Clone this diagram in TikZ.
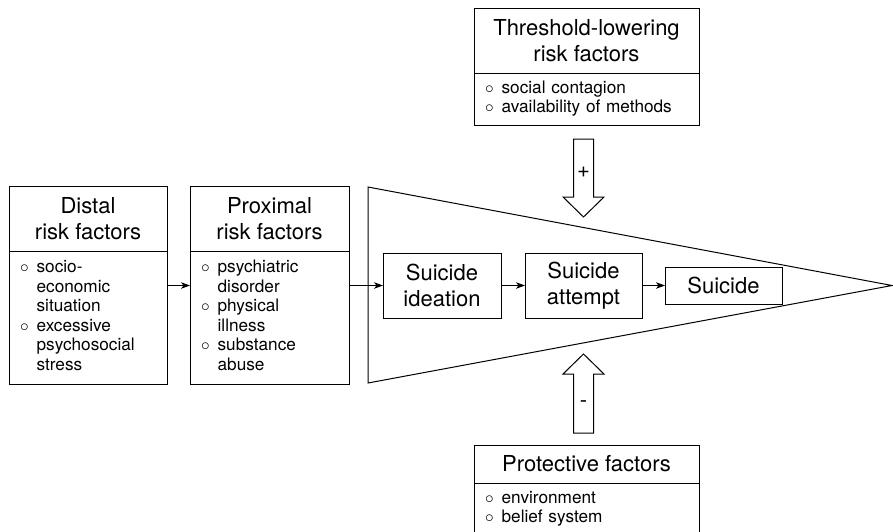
\documentclass[tikz,border=0pt]{standalone}
\usepackage{fontspec}
\setmainfont{TeX Gyre Heros}
\usetikzlibrary{arrows.meta}
\usetikzlibrary{positioning}
\usetikzlibrary{calc}

\newcommand{\bul}{$\circ$}

\begin{document}
\begin{tikzpicture}[x=1pt,y=-1pt,line width=1pt,
        factorhead/.style={draw,rectangle,outer sep=0pt,inner sep=0pt,minimum height=65pt,align=center,font=\fontsize{22}{26.5}\selectfont},
        factorbody/.style={draw,rectangle,outer sep=0pt,inner xsep=11pt,inner ysep=0pt,minimum height=133pt,align=left,font=\fontsize{17.2}{19.5}\selectfont},
        stage/.style={draw,rectangle,outer sep=0pt,inner sep=0pt,minimum width=118pt,minimum height=65pt,align=center,font=\fontsize{22}{26.5}\selectfont},
        link/.style={-{Stealth[length=9pt,width=6.5pt,inset=2.5pt]}},
        blockarrow/.style={draw,line join=miter},
        sign/.style={inner sep=0pt,font=\fontsize{22}{26.5}\selectfont}]
            \useasboundingbox (0,0) rectangle (893,531);
            \clip (0,0) rectangle (893,531);
            % the funnel
            \draw (368,187) -- (892,285.5) -- (368,383) -- cycle;
            % risk factors on the left
            \node[factorhead,minimum width=158pt] (dhead) at (88,218.5) {Distal\\risk factors};
            \node[factorbody,text width=136pt,below=0pt of dhead] (dbody) {\begin{tabular}{@{}l@{\hspace{8pt}}l@{}}
                \bul & socio-\\ & economic\\ & situation\\
                \bul & excessive\\ & psychosocial\\ & stress
            \end{tabular}};
            \node[factorhead,minimum width=159pt] (phead) at (269.5,218.5) {Proximal\\risk factors};
            \node[factorbody,text width=137pt,below=0pt of phead] (pbody) {\begin{tabular}{@{}l@{\hspace{8pt}}l@{}}
                \bul & psychiatric\\ & disorder\\
                \bul & physical\\ & illness\\
                \bul & substance\\ & abuse
            \end{tabular}};
            % stages
            \node[stage] (ideation) at (442,285.5) {Suicide\\ideation};
            \node[stage,minimum width=117pt] (attempt) at (583.5,285.5) {Suicide\\attempt};
            \node[stage,minimum width=117pt,minimum height=37pt] (suicide) at (723.5,285.5) {Suicide};
            \draw[link] (dbody.east |- ideation) -- (pbody.west |- ideation);
            \draw[link] (pbody.east |- ideation) -- (ideation);
            \draw[link] (ideation) -- (attempt);
            \draw[link] (attempt) -- (suicide);
            % threshold-lowering factors
            \node[factorhead,minimum width=225pt] (thead) at (586.5,40.5) {Threshold-lowering\\risk factors};
            \node[factorbody,text width=203pt,minimum height=52pt,below=0pt of thead] (tbody) {\begin{tabular}{@{}l@{\hspace{8pt}}l@{}}
                \bul & social contagion\\
                \bul & availability of methods
            \end{tabular}};
            \draw[blockarrow] ($(attempt |- tbody.south)+(-10,14)$) -- ++(20,0) -- ++(0,58) -- ++(10.5,0)
                -- ++(-20.5,20) -- ++(-20.5,-20) -- ++(10.5,0) -- cycle;
            \node[sign] (plus) at ($(attempt |- tbody.south)+(0,47)$) {+};
            % protective factors
            \node[factorhead,minimum width=225pt,minimum height=38pt] (prhead) at (586.5,464) {Protective factors};
            \node[factorbody,text width=203pt,minimum height=52pt,below=0pt of prhead] (prbody) {\begin{tabular}{@{}l@{\hspace{8pt}}l@{}}
                \bul & environment\\
                \bul & belief system
            \end{tabular}};
            \draw[blockarrow] ($(attempt |- prhead.north)+(-10,-12)$) -- ++(20,0) -- ++(0,-59) -- ++(10.5,0)
                -- ++(-20.5,-20) -- ++(-20.5,20) -- ++(10.5,0) -- cycle;
            \node[sign] (minus) at ($(attempt |- prhead.north)+(0,-41)$) {-};
        \end{tikzpicture}
\end{document}
